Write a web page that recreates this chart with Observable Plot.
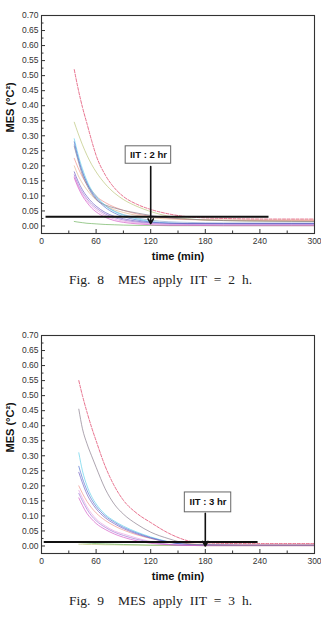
<!DOCTYPE html>
<html><head><meta charset="utf-8">
<script src="https://cdn.jsdelivr.net/npm/d3@7"></script>
<script src="https://cdn.jsdelivr.net/npm/@observablehq/plot@0.6"></script>
<style>
body{margin:0;background:#fff;width:321px;height:629px;position:relative;overflow:hidden}
.fig{position:absolute;left:0;width:321px}
.cap{position:absolute;left:0;width:321px;text-align:center;font-family:"Liberation Serif","Times New Roman",serif;font-size:13.5px;word-spacing:3.6px;color:#222;white-space:pre;line-height:16px}
</style></head><body>
<div id="f8" class="fig" style="top:0"></div>
<div class="cap" style="top:272px">Fig. 8  MES apply IIT = 2 h.</div>
<div id="f9" class="fig" style="top:320px"></div>
<div class="cap" style="top:593px">Fig. 9  MES apply IIT = 3 h.</div>
<script>
// ---- tick labels ----
const xMajor = [0, 60, 120, 180, 240, 300];
const xMinor = [30, 90, 150, 210, 270];
const yMajor = [0, 0.05, 0.10, 0.15, 0.20, 0.25, 0.30, 0.35, 0.40, 0.45, 0.50, 0.55, 0.60, 0.65, 0.70];
const yMinor = [0.025, 0.075, 0.125, 0.175, 0.225, 0.275, 0.325, 0.375, 0.425, 0.475, 0.525, 0.575, 0.625, 0.675];

// ---- Fig. 8 (IIT = 2 h) ----
const fig8Times   = [36, 40, 45, 50, 55, 60, 70, 80, 90, 105, 120, 140, 160, 200, 250, 300];
const fig8Red     = [0.52, 0.46, 0.395, 0.34, 0.285, 0.235, 0.17, 0.127, 0.098, 0.072, 0.055, 0.04, 0.031, 0.025, 0.023, 0.023];
const fig8Olive   = [0.345, 0.31, 0.27, 0.235, 0.205, 0.18, 0.14, 0.11, 0.088, 0.065, 0.048, 0.032, 0.024, 0.018, 0.016, 0.015];
const fig8Cyan    = [0.29, 0.24, 0.19, 0.15, 0.12, 0.1, 0.068, 0.048, 0.036, 0.024, 0.015, 0.01, 0.008, 0.007, 0.006, 0.006];
const fig8Blue    = [0.28, 0.23, 0.18, 0.142, 0.113, 0.092, 0.062, 0.043, 0.031, 0.02, 0.013, 0.009, 0.008, 0.008, 0.008, 0.008];
const fig8Steel   = [0.27, 0.225, 0.178, 0.143, 0.116, 0.096, 0.068, 0.05, 0.038, 0.027, 0.019, 0.014, 0.012, 0.01, 0.01, 0.01];
const fig8Gray    = [0.265, 0.22, 0.17, 0.135, 0.108, 0.088, 0.07, 0.06, 0.052, 0.043, 0.035, 0.027, 0.023, 0.018, 0.016, 0.015];
const fig8Salmon  = [0.225, 0.195, 0.163, 0.138, 0.118, 0.1, 0.078, 0.063, 0.052, 0.04, 0.032, 0.026, 0.022, 0.019, 0.018, 0.018];
const fig8Tan     = [0.2, 0.17, 0.142, 0.12, 0.102, 0.088, 0.068, 0.054, 0.045, 0.035, 0.028, 0.023, 0.021, 0.02, 0.02, 0.02];
const fig8Purple  = [0.18, 0.15, 0.12, 0.098, 0.08, 0.066, 0.045, 0.032, 0.024, 0.016, 0.011, 0.009, 0.008, 0.008, 0.008, 0.008];
const fig8Violet  = [0.17, 0.14, 0.112, 0.09, 0.073, 0.06, 0.04, 0.028, 0.02, 0.013, 0.009, 0.006, 0.005, 0.005, 0.005, 0.005];
const fig8Pink    = [0.165, 0.135, 0.106, 0.084, 0.067, 0.054, 0.035, 0.023, 0.016, 0.01, 0.007, 0.005, 0.004, 0.004, 0.004, 0.004];
const fig8Magenta = [0.16, 0.13, 0.1, 0.078, 0.06, 0.047, 0.029, 0.018, 0.012, 0.007, 0.004, 0.002, 0.002, 0.001, 0.001, 0.001];
const fig8Green   = [0.015, 0.013, 0.011, 0.009, 0.008, 0.007, 0.005, 0.004, 0.003, 0.002, 0.002, 0.001, 0.001, 0.001, 0.001, 0.001];
const fig8Threshold = [{x1: 5, x2: 250, y: 0.031}];
const fig8Arrow     = [{x: 120, y1: 0.198, y2: 0.008}];
const fig8Box       = [{x1: 92.5, x2: 142.5, y1: 0.207, y2: 0.265, label: "IIT : 2 hr"}];

// ---- Fig. 9 (IIT = 3 h) ----
const fig9Times   = [41, 45, 50, 55, 60, 70, 80, 90, 105, 120, 140, 160, 180, 220, 260, 300];
const fig9Red     = [0.55, 0.5, 0.445, 0.395, 0.35, 0.265, 0.2, 0.152, 0.108, 0.078, 0.042, 0.018, 0.01, 0.008, 0.008, 0.008];
const fig9Gray    = [0.455, 0.39, 0.34, 0.3, 0.262, 0.19, 0.139, 0.106, 0.072, 0.046, 0.024, 0.008, 0.003, 0.002, 0.002, 0.002];
const fig9Cyan    = [0.31, 0.25, 0.2, 0.165, 0.14, 0.105, 0.083, 0.066, 0.046, 0.03, 0.014, 0.005, 0.003, 0.002, 0.002, 0.002];
const fig9Blue    = [0.265, 0.225, 0.185, 0.155, 0.132, 0.1, 0.079, 0.062, 0.043, 0.028, 0.013, 0.005, 0.003, 0.002, 0.002, 0.002];
const fig9Purple  = [0.245, 0.21, 0.172, 0.145, 0.124, 0.094, 0.074, 0.058, 0.04, 0.026, 0.012, 0.005, 0.003, 0.002, 0.002, 0.002];
const fig9Salmon  = [0.2, 0.175, 0.148, 0.127, 0.11, 0.085, 0.067, 0.053, 0.037, 0.025, 0.014, 0.008, 0.005, 0.004, 0.004, 0.004];
const fig9Pink    = [0.185, 0.16, 0.13, 0.108, 0.09, 0.067, 0.05, 0.04, 0.026, 0.015, 0.006, 0.003, 0.002, 0.002, 0.002, 0.002];
const fig9Violet  = [0.175, 0.15, 0.122, 0.1, 0.084, 0.062, 0.046, 0.035, 0.022, 0.013, 0.005, 0.002, 0.002, 0.002, 0.002, 0.002];
const fig9Magenta = [0.16, 0.135, 0.108, 0.09, 0.075, 0.055, 0.04, 0.029, 0.017, 0.009, 0.004, 0.002, 0.001, 0.001, 0.001, 0.001];
const fig9Green   = [0.012, 0.011, 0.01, 0.009, 0.008, 0.007, 0.006, 0.005, 0.004, 0.003, 0.003, 0.002, 0.002, 0.002, 0.002, 0.002];
const fig9Olive   = [0.006, 0.006, 0.005, 0.005, 0.005, 0.004, 0.004, 0.003, 0.003, 0.002, 0.002, 0.002, 0.001, 0.001, 0.001, 0.001];
const fig9Threshold = [{x1: 3, x2: 238, y: 0.013}];
const fig9Arrow     = [{x: 180, y1: 0.109, y2: 0.0}];
const fig9Box       = [{x1: 157.5, x2: 208.5, y1: 0.112, y2: 0.178, label: "IIT : 3 hr"}];

// ---- series colours ----
const colors = {
  red: "#e3587a", olive: "#b9c477", cyan: "#5fd0ea", blue: "#4f6fd0", steel: "#8fa8d0",
  gray: "#857a8a", salmon: "#f0908a", tan: "#e2b890", purple: "#6e5cc0", violet: "#a074d4",
  pink: "#e6a0e2", magenta: "#d457c6", green: "#6cb25c"
};

function tidy(times, list) {
  const rows = [];
  for (const [name, vals] of list) times.forEach((t, i) => rows.push({t, v: vals[i], s: name}));
  return rows;
}

const fig8Data = tidy(fig8Times, [
  ["green", fig8Green], ["tan", fig8Tan], ["salmon", fig8Salmon], ["olive", fig8Olive], ["gray", fig8Gray],
  ["steel", fig8Steel], ["cyan", fig8Cyan], ["blue", fig8Blue], ["purple", fig8Purple], ["violet", fig8Violet],
  ["pink", fig8Pink], ["magenta", fig8Magenta], ["red", fig8Red]
]);
const fig9Data = tidy(fig9Times, [
  ["olive", fig9Olive], ["green", fig9Green], ["salmon", fig9Salmon], ["cyan", fig9Cyan], ["blue", fig9Blue],
  ["purple", fig9Purple], ["pink", fig9Pink], ["violet", fig9Violet], ["magenta", fig9Magenta],
  ["gray", fig9Gray], ["red", fig9Red]
]);

const W = 321, H = 268, mL = 41, mR = 7, mT = 15, mB = 35;
const plotW = W - mL - mR, plotH = H - mT - mB;
const font = "'Liberation Sans', Arial, sans-serif";

function makeFig(data, threshold, arrow, box) {
  return Plot.plot({
    width: W, height: H,
    marginLeft: mL, marginRight: mR, marginTop: mT, marginBottom: mB,
    style: {fontFamily: font, fontSize: "8.5px", color: "#333", background: "#fff"},
    x: {domain: [0, 300]},
    y: {domain: [-0.025, 0.70]},
    marks: [
      Plot.line(data.filter(d => d.s !== "red"), {x: "t", y: "v", z: "s", stroke: d => colors[d.s], curve: "monotone-x", strokeWidth: 0.8, strokeOpacity: 0.85}),
      Plot.line(data.filter(d => d.s === "red"), {x: "t", y: "v", stroke: colors.red, curve: "monotone-x", strokeWidth: 0.85, strokeDasharray: "3,1.5"}),
      Plot.ruleY(threshold, {x1: "x1", x2: "x2", y: "y", stroke: "#111", strokeWidth: 2}),
      Plot.arrow(arrow, {x1: "x", x2: "x", y1: "y1", y2: "y2", stroke: "#111", strokeWidth: 1.6, headLength: 5}),
      Plot.rect(box, {x1: "x1", x2: "x2", y1: "y1", y2: "y2", fill: "#fff", stroke: "#666", strokeWidth: 1}),
      Plot.text(box, {x: d => (d.x1 + d.x2) / 2, y: d => (d.y1 + d.y2) / 2, text: "label", fontWeight: "bold", fontSize: 9.5, fill: "#111"}),
      Plot.tickY(yMajor, {y: d => d, insetRight: plotW - 4, stroke: "#333"}),
      Plot.tickY(yMinor, {y: d => d, insetRight: plotW - 2.5, stroke: "#333"}),
      Plot.tickX(xMajor, {x: d => d, insetTop: plotH - 4, stroke: "#333"}),
      Plot.tickX(xMinor, {x: d => d, insetTop: plotH - 2.5, stroke: "#333"}),
      Plot.frame({stroke: "#333", strokeWidth: 1.1}),
      Plot.axisY({ticks: yMajor, tickSize: 0, tickPadding: 3, tickFormat: d3.format(".2f"), label: null, fill: "#333"}),
      Plot.axisX({ticks: xMajor, tickSize: 0, tickPadding: 4, tickFormat: d => String(d), label: null, fill: "#333"}),
      Plot.text(["time (min)"], {frameAnchor: "bottom", dy: 26, text: d => d, fontWeight: "bold", fontSize: 11, fill: "#111"}),
      Plot.text(["MES (°C²)"], {frameAnchor: "left", dx: -31, dy: 8, rotate: -90, text: d => d, fontWeight: "bold", fontSize: 11, fill: "#111"})
    ]
  });
}

document.getElementById("f8").append(makeFig(fig8Data, fig8Threshold, fig8Arrow, fig8Box));
document.getElementById("f9").append(makeFig(fig9Data, fig9Threshold, fig9Arrow, fig9Box));
</script>
</body></html>
